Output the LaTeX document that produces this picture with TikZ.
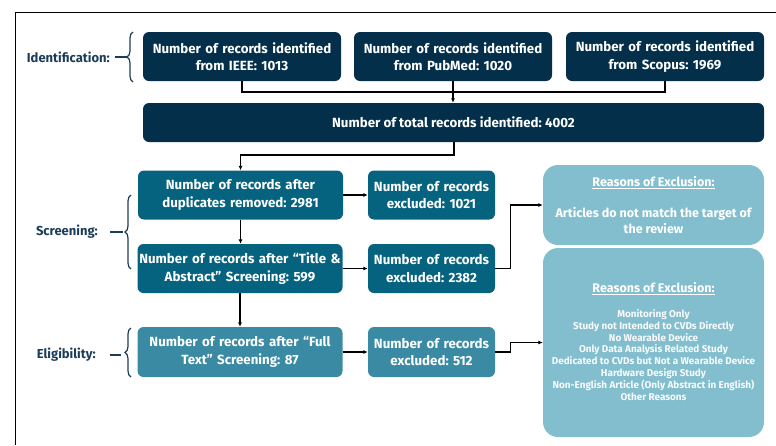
\documentclass[tikz,border=0pt]{standalone}
\usepackage{fontspec}
\setmainfont{Fira Sans}
\usetikzlibrary{arrows.meta,decorations.pathreplacing}
\frenchspacing

\definecolor{navy}{HTML}{032F4A}
\definecolor{teal}{HTML}{06637F}
\definecolor{midteal}{HTML}{3A8AA4}
\definecolor{paleteal}{HTML}{83BECE}
\definecolor{labelblue}{HTML}{1C3D5A}

\tikzset{
  stagebox/.style={rectangle, rounded corners=6pt, draw=none, text=white,
    font=\fontsize{13.3}{17.5}\selectfont\bfseries, align=center,
    inner sep=0pt, minimum height=49pt},
  idbox/.style={stagebox, fill=navy, minimum width=198pt, text width=196pt},
  scrbox/.style={stagebox, fill=teal},
  elgbox/.style={stagebox, fill=midteal},
  reasonbox/.style={rectangle, rounded corners=15pt, fill=paleteal, text=white,
    align=center, inner sep=0pt, minimum width=221pt, text width=216pt},
  stagelabel/.style={text=labelblue, font=\fontsize{13}{15}\selectfont\bfseries,
    anchor=east, inner sep=0pt},
  flow/.style={line width=1.3pt, draw=black},
  flowarrow/.style={flow, -{Latex[length=4.5pt,width=4pt]}},
  bracket/.style={draw=labelblue, line width=1.2pt,
    decorate, decoration={brace, amplitude=6pt}},
  tick/.style={draw=labelblue, line width=1.2pt}
}

\begin{document}
\begin{tikzpicture}[x=1pt,y=-1pt]
\useasboundingbox (0,0) rectangle (776,445);

% open frame: top and left edges
\draw[line width=1pt] (776,12) -- (15,12) -- (15,445);

% identification stage
\node[idbox] (ieee)   at (242,56.5) {Number of records identified\\from IEEE: 1013};
\node[idbox] (pubmed) at (453,56.5) {Number of records identified\\from PubMed: 1020};
\node[idbox] (scopus) at (665,56.5) {Number of records identified\\from Scopus: 1969};
\node[stagebox, fill=navy, minimum width=621pt, minimum height=39pt] (total) at (453.5,122.5)
  {Number of total records identified: 4002};

% screening stage
\node[scrbox, minimum width=205pt, text width=203pt] (dup) at (240.5,195)
  {Number of records after\\duplicates removed: 2981};
\node[scrbox, minimum width=127pt, text width=127pt] (ex1) at (431.5,195)
  {Number of records\\excluded: 1021};
\node[scrbox, minimum width=205pt, text width=203pt] (ta) at (240,268.5)
  {Number of records after “Title \&\\Abstract” Screening: 599};
\node[scrbox, minimum width=127pt, text width=127pt] (ex2) at (431.5,268.5)
  {Number of records\\excluded: 2382};

% eligibility stage
\node[elgbox, minimum width=205pt, text width=203pt, minimum height=50pt] (ft) at (240,352)
  {Number of records after “Full\\Text” Screening: 87};
\node[elgbox, minimum width=127pt, text width=127pt, minimum height=50pt] (ex3) at (431.5,352)
  {Number of records\\excluded: 512};

% reasons of exclusion
\node[reasonbox, minimum height=80pt] (r1) at (653.5,205) {};
\node[text=white, font=\fontsize{12.5}{14}\selectfont\bfseries] (r1head) at (653.5,183)
  {\underline{Reasons of Exclusion:}};
\node[text=white, font=\fontsize{12.5}{15.5}\selectfont\bfseries, align=center] (r1body) at (653.5,220.5)
  {Articles do not match the target of\\the review};

\node[reasonbox, minimum height=189pt] (r2) at (653.5,342.5) {};
\node[text=white, font=\fontsize{12.5}{14}\selectfont\bfseries] (r2head) at (653.5,289)
  {\underline{Reasons of Exclusion:}};
\node[text=white!94!paleteal, font=\fontsize{9.9}{11.8}\selectfont\bfseries, align=center,
  anchor=north] (r2body) at (653.5,306)
  {Monitoring Only\\
   Study not Intended to CVDs Directly\\
   No Wearable Device\\
   Only Data Analysis Related Study\\
   Dedicated to CVDs but Not a Wearable Device\\
   Hardware Design Study\\
   Non-English Article (Only Abstract in English)\\
   Other Reasons};

% stage labels with braces
\node[stagelabel] (idlab) at (110,57) {Identification:};
\coordinate (idtop) at (133,32);
\coordinate (idbot) at (133,82);
\draw[bracket] (idbot) -- (idtop);
\draw[tick] (idlab.east) ++(5,0) -- ++(12,0);

\node[stagelabel] (scrlab) at (98,232) {Screening:};
\coordinate (scrtop) at (131,195);
\coordinate (scrbot) at (131,269);
\draw[bracket] (scrbot) -- (scrtop);
\draw[tick] (scrlab.east) ++(12,0) -- ++(13,0);

\node[stagelabel] (elglab) at (96,355) {Eligibility:};
\coordinate (elgtop) at (131,328);
\coordinate (elgbot) at (131,377);
\draw[bracket] (elgbot) -- (elgtop);
\draw[tick] (elglab.east) ++(14,0) -- ++(11,0);

% connectors
\coordinate (merge) at (453,92);
\draw[flow] (ieee.south) |- (merge) -| (scopus.south);
\draw[flowarrow] (pubmed.south) -- (pubmed.south |- total.north);
\coordinate (split) at (454,155);
\draw[flowarrow] (total.south -| split) -- (split) -| (dup.north);
\draw[flowarrow] (dup.south) -- (dup.south |- ta.north);
\draw[flowarrow] (ta.south) -- (ta.south |- ft.north);
\draw[flowarrow] (dup.east) -- (ex1.west);
\draw[flowarrow] (ta.east) -- (ex2.west);
\draw[flowarrow] (ft.east) -- (ex3.west);
\draw[flowarrow] (ex2.east) -- ++(15,0) |- (r1.west);
\draw[flowarrow] (ex3.east) -- ++(15,0) |- (r2.west);
\end{tikzpicture}
\end{document}
